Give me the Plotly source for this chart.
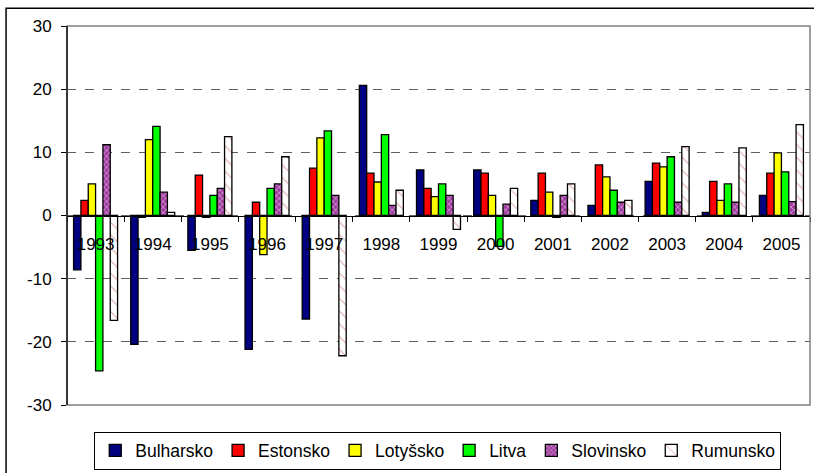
import plotly.graph_objects as go

years = ["1993", "1994", "1995", "1996", "1997", "1998", "1999",
         "2000", "2001", "2002", "2003", "2004", "2005"]

bulharsko = [-8.6, -20.4, -5.5, -21.2, -16.4, 20.6, 7.2, 7.2, 2.4, 1.6, 5.4, 0.5, 3.2]
estonsko = [2.4, -0.3, 6.4, 2.1, 7.5, 6.7, 4.3, 6.7, 6.7, 8.0, 8.3, 5.4, 6.7]
lotyssko = [5.0, 12.0, -0.3, -6.2, 12.3, 5.3, 3.0, 3.2, 3.7, 6.1, 7.7, 2.4, 9.9]
litva = [-24.6, 14.1, 3.2, 4.3, 13.4, 12.8, 5.0, -4.9, -0.3, 4.0, 9.3, 5.0, 6.9]
slovinsko = [11.2, 3.7, 4.3, 5.0, 3.2, 1.6, 3.2, 1.8, 3.2, 2.1, 2.1, 2.1, 2.2]
rumunsko = [-16.6, 0.5, 12.5, 9.3, -22.2, 4.0, -2.2, 4.3, 5.0, 2.4, 10.9, 10.7, 14.4]

y_ticks = [-30, -20, -10, 0, 10, 20, 30]
y_labels = ["-30", "-20", "-10", "0", "10", "20", "30"]

FONT = "Arial, Liberation Sans, sans-serif"
OUTLINE = dict(color="black", width=1.3)

fig = go.Figure()
fig.add_trace(go.Bar(x=years, y=bulharsko, name="Bulharsko",
                     marker=dict(color="#000080", line=OUTLINE)))
fig.add_trace(go.Bar(x=years, y=estonsko, name="Estonsko",
                     marker=dict(color="#FF0000", line=OUTLINE)))
fig.add_trace(go.Bar(x=years, y=lotyssko, name="Lotyšsko",
                     marker=dict(color="#FFFF00", line=OUTLINE)))
fig.add_trace(go.Bar(x=years, y=litva, name="Litva",
                     marker=dict(color="#00FF00", line=OUTLINE)))
fig.add_trace(go.Bar(x=years, y=slovinsko, name="Slovinsko",
                     marker=dict(color="#A03CA0", line=OUTLINE,
                                 pattern=dict(shape="x", bgcolor="#A03CA0", fgcolor="white",
                                              size=4, solidity=0.35, fillmode="overlay"))))
fig.add_trace(go.Bar(x=years, y=rumunsko, name="Rumunsko",
                     marker=dict(color="white", line=OUTLINE,
                                 pattern=dict(shape="\\", bgcolor="white", fgcolor="#C05050",
                                              size=9, solidity=0.12, fillmode="overlay"))))

# outer chart frame and plot-area border
shapes = [
    dict(type="rect", xref="paper", yref="paper", x0=-0.082, x1=1.05, y0=-0.4, y1=1.047,
         line=dict(color="black", width=1.5), layer="above"),
    dict(type="rect", xref="paper", yref="paper", x0=0, x1=1, y0=0, y1=1,
         line=dict(color="#808080", width=1.5), layer="above"),
    dict(type="line", xref="paper", yref="paper", x0=0, x1=0, y0=0, y1=1,
         line=dict(color="black", width=1.3), layer="above"),
]

fig.update_layout(
    width=814, height=473,
    margin=dict(l=67, r=4, t=26, b=65),
    paper_bgcolor="white", plot_bgcolor="white",
    font=dict(family=FONT, size=17, color="black"),
    barmode="group", bargap=0.23, bargroupgap=0,
    shapes=shapes,
    xaxis=dict(type="category", anchor="free", position=0.5,
               showline=True, linecolor="black", linewidth=1.3,
               ticks="outside", ticklen=5, tickcolor="black", tickson="boundaries",
               ticklabelstandoff=13, showgrid=False, zeroline=False,
               tickfont=dict(size=17)),
    yaxis=dict(range=[-30, 30], tickvals=y_ticks, ticktext=y_labels, showline=False,
               ticks="outside", ticklen=5, tickcolor="black", ticklabelstandoff=6,
               showgrid=True, gridcolor="#606060", griddash="dash", gridwidth=1,
               zeroline=False, tickfont=dict(size=17)),
    legend=dict(orientation="h", x=0.499, xanchor="center", y=-0.07, yanchor="top",
                bordercolor="black", borderwidth=1, font=dict(size=17.5),
                itemwidth=30, tracegroupgap=0),
)

# drop the browser's default body margin so the figure sits at the page origin
fig.write_html("out.html", config={"displayModeBar": False},
               post_script="document.body.style.margin = '0';")
